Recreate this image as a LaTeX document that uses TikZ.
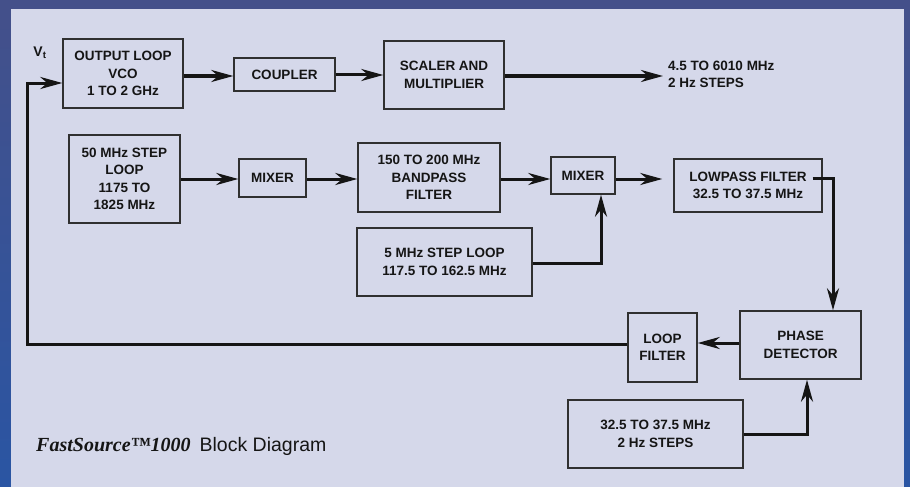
\documentclass[tikz,border=0pt]{standalone}
\usepackage{fontspec}
\setsansfont{Liberation Sans}
\newfontfamily\brandfont{Liberation Serif}
\usetikzlibrary{arrows.meta}

\definecolor{frametop}{HTML}{44508A}
\definecolor{framebot}{HTML}{2A55A3}
\definecolor{panel}{HTML}{D5D8EA}
\definecolor{ink}{HTML}{151515}
\definecolor{edge}{HTML}{303030}

\tikzset{
  block/.style={draw=edge, line width=1.4pt, fill=panel, inner sep=0pt, align=center, text=ink,
    font=\sffamily\bfseries\fontsize{13.5}{17.5}\selectfont},
  plain/.style={inner sep=0pt, align=left, text=ink,
    font=\sffamily\bfseries\fontsize{13.5}{17.5}\selectfont},
  sig/.style={draw=ink, line width=3pt, -{Stealth[length=22pt,width=12pt,inset=7pt]}},
}

\begin{document}
\begin{tikzpicture}[x=1pt,y=-1pt]
  % frame and panel
  \shade[top color=frametop, bottom color=framebot] (0,0) rectangle (910,487);
  \fill[panel] (11,9) rectangle (904,487);
  \useasboundingbox (0,0) rectangle (910,487);

  % top row
  \node[block, minimum width=120pt, minimum height=69pt] (vco) at (123,73.5) {OUTPUT LOOP\\VCO\\1 TO 2 GHz};
  \node[block, minimum width=101pt, minimum height=33pt] (coupler) at (284.5,74.5) {COUPLER};
  \node[block, minimum width=120pt, minimum height=68pt] (scaler) at (444,75) {SCALER AND\\MULTIPLIER};
  \node[plain, anchor=west] (out) at (668,74.5) {4.5 TO 6010 MHz\\2 Hz STEPS};
  \node[plain, font=\sffamily\bfseries\fontsize{14}{16}\selectfont] (vt) at (40,53) {V\textsubscript{t}};

  % middle row
  \node[block, minimum width=111pt, minimum height=88pt] (step50) at (124.5,179) {50 MHz STEP\\LOOP\\1175 TO\\1825 MHz};
  \node[block, minimum width=67pt, minimum height=38pt] (mixa) at (272.5,178) {MIXER};
  \node[block, minimum width=142pt, minimum height=69pt] (bandpass) at (429,177.5) {150 TO 200 MHz\\BANDPASS\\FILTER};
  \node[block, minimum width=64pt, minimum height=37pt] (mixb) at (583,175.5) {MIXER};
  \node[block, minimum width=148pt, minimum height=53pt] (lowpass) at (748,185.5) {LOWPASS FILTER\\32.5 TO 37.5 MHz};
  \node[block, minimum width=175pt, minimum height=68pt] (step5) at (444.5,262) {5 MHz STEP LOOP\\117.5 TO 162.5 MHz};

  % bottom row
  \node[block, minimum width=121pt, minimum height=68pt] (phase) at (800.5,345) {PHASE\\DETECTOR};
  \node[block, minimum width=69pt, minimum height=69pt] (loopf) at (662.5,347.5) {LOOP\\FILTER};
  \node[block, minimum width=175pt, minimum height=68pt] (ref) at (655.5,434) {32.5 TO 37.5 MHz\\2 Hz STEPS};
  \coordinate (ret) at (27,344);

  % signal paths
  \draw[sig] (vco.east |- 0,76) -- (coupler.west |- 0,76);
  \draw[sig] (coupler.east |- 0,75) -- (scaler.west |- 0,75);
  \draw[sig] (scaler.east |- 0,76) -- ([xshift=-5pt]out.west |- 0,76);
  \draw[sig] (step50.east |- 0,179) -- (mixa.west |- 0,179);
  \draw[sig] (mixa.east |- 0,179) -- (bandpass.west |- 0,179);
  \draw[sig] (bandpass.east |- 0,179) -- (mixb.west |- 0,179);
  \draw[sig] (mixb.east |- 0,179) -- ([xshift=-11pt]lowpass.west |- 0,179);
  \draw[sig] ([xshift=-10pt]lowpass.east |- 0,178) -| ([xshift=32.5pt]phase.north);
  \draw[sig] (step5.east |- 0,263) -| ([xshift=18pt]mixb.south);
  \draw[sig] (phase.west |- 0,343) -- (loopf.east |- 0,343);
  \draw[sig] (loopf.west |- ret) -- (ret) |- (vco.west |- 0,83);
  \draw[sig] (ref.east) -| ([xshift=6.5pt]phase.south);

  % caption
  \node[anchor=base west, inner sep=0pt, text=ink] (title) at (36,451)
    {{\brandfont\bfseries\itshape\fontsize{20}{22}\selectfont FastSource™1000}\hspace{9pt}{\sffamily\fontsize{19.5}{22}\selectfont Block Diagram}};
\end{tikzpicture}
\end{document}
